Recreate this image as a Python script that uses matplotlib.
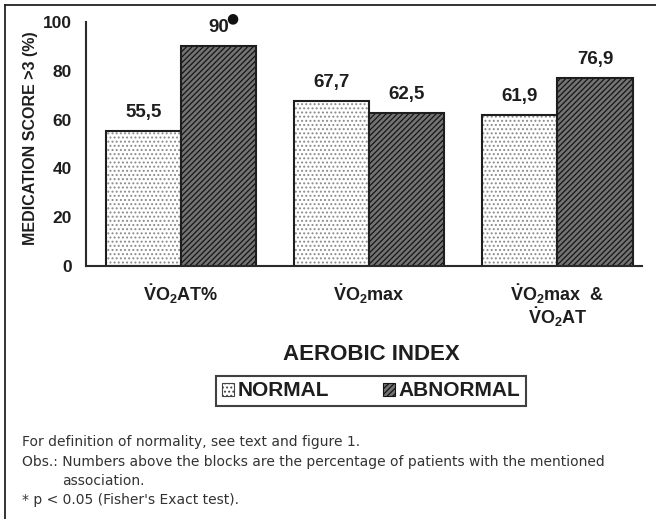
import matplotlib
matplotlib.use("Agg")
import matplotlib.pyplot as plt
import matplotlib.transforms as mtransforms
import numpy as np
from matplotlib.patches import Patch
from matplotlib.lines import Line2D

plt.rcParams['font.family'] = ['Liberation Sans', 'DejaVu Sans']
plt.rcParams['mathtext.fontset'] = 'custom'
plt.rcParams['mathtext.rm'] = 'Liberation Sans:bold'
plt.rcParams['mathtext.bf'] = 'Liberation Sans:bold'
plt.rcParams['mathtext.it'] = 'Liberation Sans:bold'
plt.rcParams['hatch.linewidth'] = 0.9

category_lines = [[r"$\dot{V}O_{2}AT\%$"],
                  [r"$\dot{V}O_{2}max$"],
                  [r"$\dot{V}O_{2}max$  &", r"$\dot{V}O_{2}AT$"]]
normal = [55.5, 67.7, 61.9]
abnormal = [90.0, 62.5, 76.9]
normal_labels = ["55,5", "67,7", "61,9"]
abnormal_labels = ["90", "62,5", "76,9"]
significant = [True, False, False]
yticks = [0, 20, 40, 60, 80, 100]
series_names = ["NORMAL", "ABNORMAL"]

W, H = 656, 519
fig = plt.figure(figsize=(W / 100, H / 100), dpi=100)
ax = fig.add_axes([86 / W, 1 - 266 / H, (642 - 86) / W, (266 - 22) / H])

x = np.arange(len(category_lines))
bw = 0.4
ax.bar(x - bw / 2, normal, bw, color='white', edgecolor='#8a8a8a', hatch='....', linewidth=0)
ax.bar(x - bw / 2, normal, bw, fill=False, edgecolor='#1e1e1e', linewidth=1.5)
ax.bar(x + bw / 2, abnormal, bw, color='#737373', edgecolor='#151515', hatch='//////', linewidth=0)
ax.bar(x + bw / 2, abnormal, bw, fill=False, edgecolor='#1e1e1e', linewidth=1.5)

lab_kw = dict(textcoords='offset points', ha='center', va='bottom', fontsize=13.5,
              fontweight='bold', color='#1e1e1e')
for xi, v, lab in zip(x, normal, normal_labels):
    ax.annotate(lab, (xi - bw / 2, v), xytext=(0, 7), **lab_kw)
for xi, v, lab, sig in zip(x, abnormal, abnormal_labels, significant):
    ax.annotate(lab, (xi + bw / 2, v), xytext=(0, 7.5), **lab_kw)
    if sig:
        ax.annotate('\u25CF', (xi + bw / 2, v), xytext=(10, 20.5), textcoords='offset points',
                    ha='center', va='center', fontsize=10, color='#111111',
                    family=['DejaVu Sans'])

ax.set_xlim(-0.505, 2.45)
ax.set_ylim(0, 100)
ax.set_yticks(yticks)
ax.set_yticklabels([str(t) for t in yticks], fontsize=12.5, fontweight='bold', color='#1e1e1e')
ax.set_xticks(x)
ax.set_xticklabels([''] * len(x))
ax.tick_params(axis='x', length=0)
ax.tick_params(axis='y', length=0, pad=10)
for s in ['top', 'right']:
    ax.spines[s].set_visible(False)
for s in ['left', 'bottom']:
    ax.spines[s].set_linewidth(1.5)
    ax.spines[s].set_color('#2a2a2a')

trans = mtransforms.blended_transform_factory(ax.transData, ax.transAxes)
for xi, lines in zip(x, category_lines):
    for k, line in enumerate(lines):
        off = mtransforms.ScaledTranslation(0, -(16 + 23 * k) / 100, fig.dpi_scale_trans)
        ax.text(xi, 0, line, transform=trans + off, ha='center', va='top', fontsize=13,
                fontweight='bold', color='#1e1e1e')

fig.text(31 / W, 1 - 138 / H, "MEDICATION SCORE >3 (%)", rotation=90, ha='center', va='center',
         fontsize=11.5, fontweight='bold', color='#1e1e1e')
fig.text(371 / W, 1 - 355 / H, "AEROBIC INDEX", ha='center', va='center',
         fontsize=16, fontweight='bold', color='#1e1e1e')

handles = [Patch(facecolor='white', edgecolor='#444444', hatch='....', linewidth=0.8),
           Patch(facecolor='#737373', edgecolor='#151515', hatch='//////', linewidth=0.8)]
leg = fig.legend(handles, series_names, loc='center', bbox_to_anchor=(371 / W, 1 - 391 / H),
                 ncol=2, frameon=True, fancybox=False, edgecolor='#111111',
                 prop={'weight': 'bold', 'size': 15}, handlelength=0.6, handleheight=0.6,
                 handletextpad=0.15, columnspacing=2.6, borderpad=0.25, borderaxespad=0)
leg.get_frame().set_linewidth(1.5)
for t in leg.get_texts():
    t.set_color('#1e1e1e')

fig.add_artist(Line2D([5 / W, 1], [1 - 5 / H, 1 - 5 / H], color='#222222', lw=1.3))
fig.add_artist(Line2D([5 / W, 5 / W], [0, 1 - 5 / H], color='#222222', lw=1.3))

note_font = ['Liberation Sans Narrow', 'DejaVu Sans']
fs = 10
note_kw = dict(ha='left', va='center', fontsize=fs, family=note_font, color='#333333')
fig.text(22 / W, 1 - 442 / H, "For definition of normality, see text and figure 1.", **note_kw)
fig.text(22 / W, 1 - 462 / H,
         "Obs.: Numbers above the blocks are the percentage of patients with the mentioned",
         **note_kw)
fig.text(62 / W, 1 - 481 / H, "association.", **note_kw)
fig.text(22 / W, 1 - 500 / H, "* p < 0.05 (Fisher's Exact test).", **note_kw)

fig.savefig("out.png", dpi=100)
